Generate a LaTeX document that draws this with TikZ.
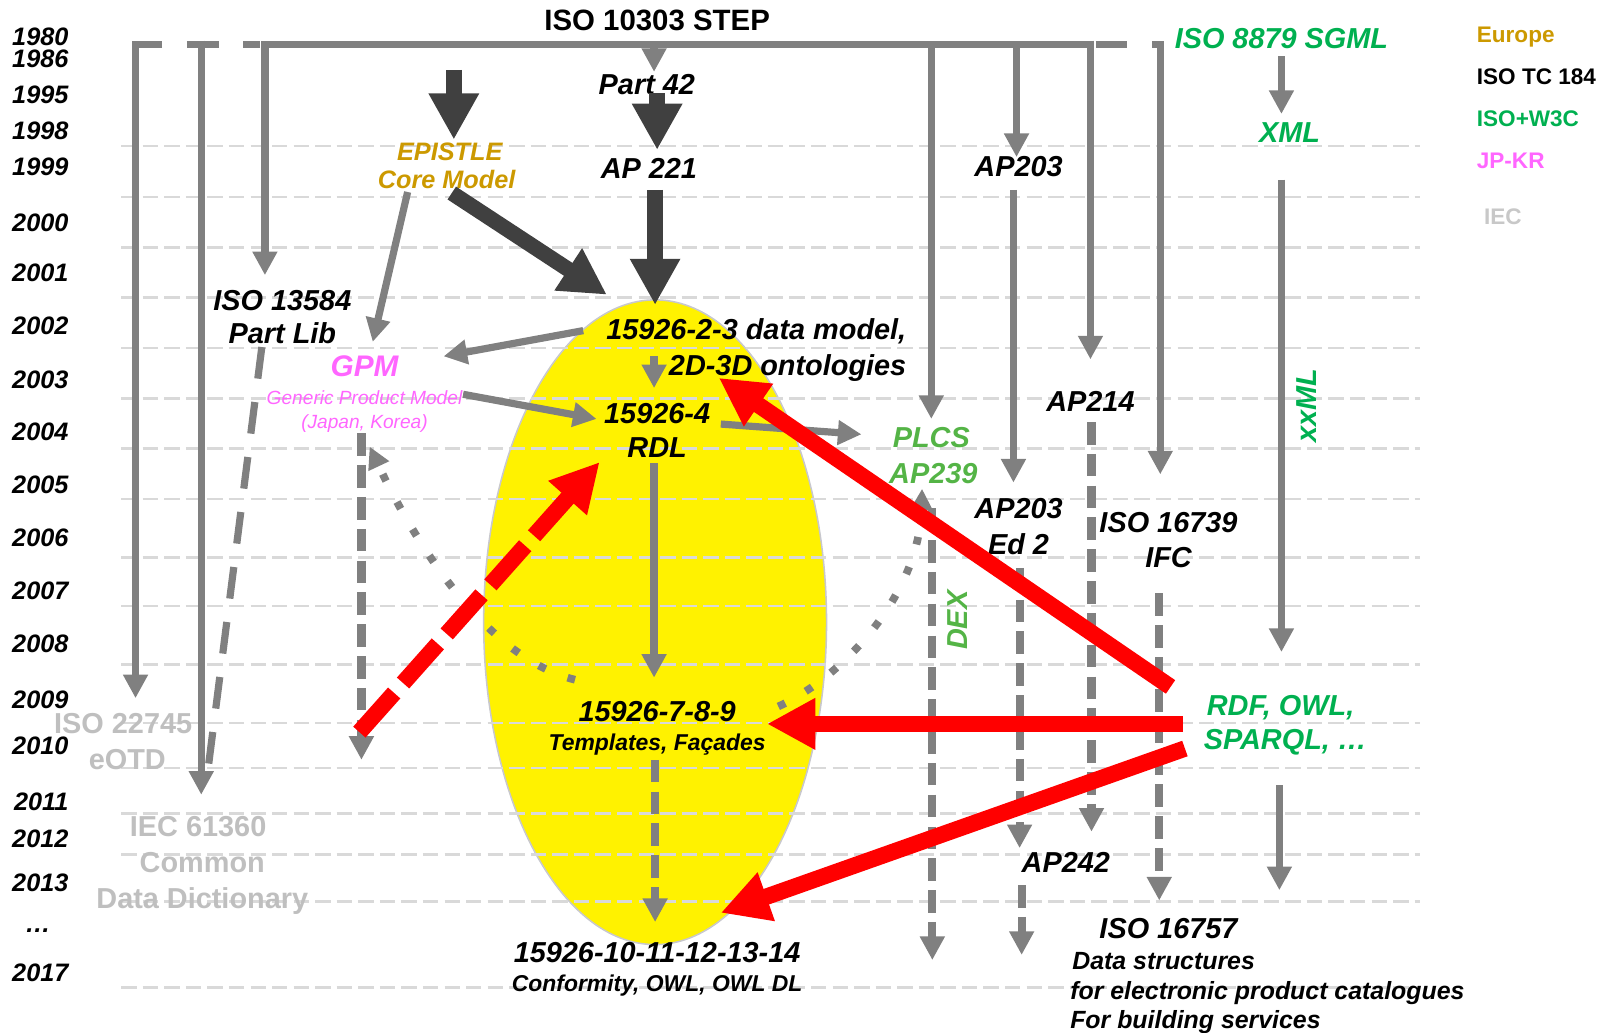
\documentclass[tikz,border=0pt]{standalone}
\usepackage{fontspec}
\setmainfont{Liberation Sans}
\usetikzlibrary{arrows.meta, positioning}

\definecolor{linegray}{RGB}{128,128,128}
\definecolor{heavygray}{RGB}{64,64,64}
\definecolor{gridgray}{RGB}{217,217,217}
\definecolor{ellgray}{RGB}{200,200,205}
\definecolor{eugold}{RGB}{204,153,0}
\definecolor{w3cgreen}{RGB}{0,176,80}
\definecolor{plcsgreen}{RGB}{84,180,70}
\definecolor{jpkr}{RGB}{255,102,255}
\definecolor{iecgray}{RGB}{191,191,191}
\definecolor{legiec}{RGB}{200,200,200}

\begin{document}
\begin{tikzpicture}[
        x=0.02cm, y=-0.02cm,
        lbl/.style={font=\fontsize{16}{19}\selectfont\bfseries\itshape, inner sep=0pt, anchor=base},
        sublbl/.style={font=\fontsize{12.7}{15}\selectfont\bfseries\itshape, inner sep=0pt, anchor=base},
        desclbl/.style={font=\fontsize{13.8}{16}\selectfont\bfseries\itshape, inner sep=0pt, anchor=base west},
        year/.style={font=\fontsize{14}{16}\selectfont\bfseries\itshape, inner sep=0pt, anchor=base east},
        legend/.style={font=\fontsize{12.5}{15}\selectfont\bfseries, inner sep=0pt, anchor=base west},
        ieclbl/.style={font=\fontsize{16}{19}\selectfont\bfseries, text=iecgray, inner sep=0pt, anchor=base},
        gridline/.style={gridgray, line width=0.05cm, dash pattern=on 0.3cm off 0.12cm},
        bar/.style={linegray, line width=0.14cm},
        grayarr/.style={bar, -{Triangle[length=0.46cm, width=0.46cm]}},
        dasharr/.style={linegray, line width=0.16cm, dash pattern=on 0.44cm off 0.18cm, -{Triangle[length=0.46cm, width=0.46cm]}},
        dotarr/.style={linegray, line width=0.15cm, dash pattern=on 0.15cm off 0.46cm, -{Triangle[length=0.42cm, width=0.42cm]}},
        heavyarr/.style={heavygray, line width=0.3cm, -{Triangle[length=0.9cm, width=0.92cm]}},
        redarr/.style={red, line width=0.32cm, -{Triangle[length=0.94cm, width=0.94cm]}}
    ]
    \useasboundingbox (0,0) rectangle (1568,1006);

    % ISO 15926 ellipse
    \draw[fill=yellow, draw=ellgray, line width=0.03cm] (638,606) ellipse [x radius=3.34cm, y radius=6.28cm];

    % Year grid
    \foreach \gy in {142,192,241,290,339,388,437,486,543,590,647,704,748,792,832,878,962}
        \draw[gridline] (118,\gy) -- (1383,\gy);

    % Years
    \foreach \yy/\yr in {35/1980, 57/1986, 92/1995, 127/1998, 162/1999, 216/2000, 265/2001,
                         317/2002, 369/2003, 420/2004, 472/2005, 523/2006, 575/2007, 626/2008,
                         681/2009, 726/2010, 780/2011, 816/2012, 859/2013, 947/2017}
        \node[year] (y\yr) at (67,\yy+9) {\yr};
    \node[year, anchor=base] (ydots) at (37,908) {…};

    % Legend
    \node[legend, text=eugold] (legEU) at (1438,41) {Europe};
    \node[legend] (legTC) at (1438,82) {ISO TC 184};
    \node[legend, text=w3cgreen] (legW3C) at (1438,123) {ISO+W3C};
    \node[legend, text=jpkr] (legJK) at (1438,164) {JP-KR};
    \node[legend, text=legiec] (legIEC) at (1445,219) {IEC};

    % ISO TC 184 labels
    \node[lbl, font=\fontsize{16.3}{19}\selectfont\bfseries] (step) at (640,30) {ISO 10303 STEP};
    \node[lbl] (part42) at (630,92) {Part 42};
    \node[lbl] (ap221) at (632,174) {AP 221};
    \node[lbl] (plibA) at (275,302) {ISO 13584};
    \node[lbl] (plibB) at (275,335) {Part Lib};
    \node[lbl, anchor=base east] (dmA) at (883,331) {15926-2-3 data model,};
    \node[lbl, anchor=base east] (dmB) at (883,366) {2D-3D ontologies};
    \node[lbl] (rdlA) at (640,412) {15926-4};
    \node[lbl] (rdlB) at (640,446) {RDL};
    \node[lbl] (tmplA) at (640,703) {15926-7-8-9};
    \node[sublbl] (tmplB) at (640,731) {Templates, Façades};
    \node[lbl] (confA) at (640,937) {15926-10-11-12-13-14};
    \node[sublbl] (confB) at (640,966) {Conformity, OWL, OWL DL};
    \node[lbl] (ap203) at (992,172) {AP203};
    \node[lbl] (ap214) at (1062,401) {AP214};
    \node[lbl] (edA) at (992,505) {AP203};
    \node[lbl] (edB) at (992,540) {Ed 2};
    \node[lbl] (ifcA) at (1138,519) {ISO 16739};
    \node[lbl] (ifcB) at (1138,553) {IFC};
    \node[lbl] (ap242) at (1038,850) {AP242};
    \node[lbl] (bsA) at (1138,914) {ISO 16757};
    \node[desclbl] (bsB) at (1044,944) {Data structures};
    \node[desclbl] (bsC) at (1042,973) {for electronic product catalogues};
    \node[desclbl] (bsD) at (1042,1002) {For building services};

    % Europe, JP-KR, W3C and IEC labels
    \node[lbl, font=\fontsize{14}{16}\selectfont\bfseries\itshape, text=eugold] (epiA) at (438,156) {EPISTLE};
    \node[lbl, font=\fontsize{14}{16}\selectfont\bfseries\itshape, text=eugold] (epiB) at (435,184) {Core Model};
    \node[lbl, font=\fontsize{16.5}{19}\selectfont\bfseries\itshape, text=jpkr] (gpmA) at (355,367) {GPM};
    \node[font=\fontsize{10.6}{12}\selectfont\itshape, text=jpkr, inner sep=0pt, anchor=base] (gpmB) at (355,394) {Generic Product Model};
    \node[font=\fontsize{10.6}{12}\selectfont\itshape, text=jpkr, inner sep=0pt, anchor=base] (gpmC) at (355,417) {(Japan, Korea)};
    \node[lbl, text=plcsgreen] (plcsA) at (907,436) {PLCS};
    \node[lbl, text=plcsgreen] (plcsB) at (909,471) {AP239};
    \node[lbl, anchor=center, rotate=90, text=plcsgreen] (dex) at (933,604) {DEX};
    \node[lbl, text=w3cgreen] (sgml) at (1248,47) {ISO 8879 SGML};
    \node[lbl, text=w3cgreen] (xml) at (1256,139) {XML};
    \node[lbl, anchor=center, rotate=90, text=w3cgreen] (xxml) at (1272,395) {xxML};
    \node[lbl, anchor=base west, text=w3cgreen] (rdfA) at (1175,697) {RDF, OWL,};
    \node[lbl, anchor=base west, text=w3cgreen] (rdfB) at (1172,730) {SPARQL, …};
    \node[ieclbl] (otdA) at (120,714) {ISO 22745};
    \node[ieclbl] (otdB) at (124,749) {eOTD};
    \node[ieclbl] (cddA) at (193,815) {IEC 61360};
    \node[ieclbl] (cddB) at (197,850) {Common};
    \node[ieclbl] (cddC) at (197,885) {Data Dictionary};

    % Connector end points
    \coordinate (otdIn) at (132,680);   \coordinate (cddIn) at (196,774);
    \coordinate (plibIn) at (258,268);  \coordinate (plibOut) at (255,338);
    \coordinate (cddEnd) at (203,746);  \coordinate (p42In) at (637,70);
    \coordinate (plcsIn) at (907,408);  \coordinate (ap203In) at (990,153);
    \coordinate (ap214In) at (1062,350); \coordinate (ifcIn) at (1130,462);
    \coordinate (epiOut) at (397,187);  \coordinate (gpmIn) at (363,333);
    \coordinate (dmOut) at (568,322);   \coordinate (gpmIn2) at (432,347);
    \coordinate (gpmOut) at (451,384);  \coordinate (rdlIn) at (581,408);
    \coordinate (dmDown) at (637,347);  \coordinate (rdlTop) at (637,378);
    \coordinate (rdlOut) at (702,413);  \coordinate (plcsIn2) at (839,423);
    \coordinate (rdlDown) at (637,451); \coordinate (tmplIn) at (637,660);
    \coordinate (ap203Out) at (987,185); \coordinate (edIn) at (987,470);
    \coordinate (sgmlOut) at (1248,55); \coordinate (xmlIn) at (1248,111);
    \coordinate (xmlOut) at (1248,175); \coordinate (xxmlEnd) at (1248,635);
    \coordinate (rdfDown) at (1246,765); \coordinate (rdfEnd) at (1246,867);

    % STEP bar and its branches
    \draw[grayarr] (158,43) -| (otdIn);
    \draw[bar] (182,43) -- (213,43);
    \draw[grayarr] (196,39.5) -- (cddIn);
    \draw[bar] (237,43) -- (253,43);
    \draw[grayarr] (1065.5,43) -| (plibIn);
    \draw[grayarr] (637,43) -- (p42In);
    \draw[grayarr] (907,43) -- (plcsIn);
    \draw[grayarr] (990,43) -- (ap203In);
    \draw[grayarr] (1062,39.5) -- (ap214In);
    \draw[bar] (1067,43) -- (1098,43);
    \draw[grayarr] (1122,43) -| (ifcIn);

    % Gray links
    \draw[linegray, line width=0.14cm, dash pattern=on 0.62cm off 0.46cm] (plibOut) -- (cddEnd);
    \draw[grayarr] (epiOut) -- (gpmIn);
    \draw[grayarr] (dmOut) -- (gpmIn2);
    \draw[grayarr] (gpmOut) -- (rdlIn);
    \draw[grayarr] (dmDown) -- (rdlTop);
    \draw[grayarr] (rdlOut) -- (plcsIn2);
    \draw[grayarr] (rdlDown) -- (tmplIn);
    \draw[grayarr] (ap203Out) -- (edIn);
    \draw[grayarr] (sgmlOut) -- (xmlIn);
    \draw[grayarr] (xmlOut) -- (xxmlEnd);
    \draw[grayarr] (rdfDown) -- (rdfEnd);

    % Dashed continuations
    \draw[dasharr] (352,422) -- (352,740);
    \draw[dasharr] (638,740) -- (638,898);
    \draw[dasharr] (908,495) -- (908,935);
    \draw[dasharr] (993,553) -- (993,826);
    \draw[dasharr] (995,862) -- (995,930);
    \draw[dasharr] (1063,411) -- (1063,810);
    \draw[dasharr] (1129,578) -- (1129,877);

    % Dotted feedback
    \draw[dotarr] (560,662) .. controls (470,640) and (400,520) .. (360,435);
    \draw[dotarr] (758,688) .. controls (820,660) and (895,580) .. (898,476);

    % Heavy arrows
    \draw[heavyarr] (442,68) -- (442,136);
    \draw[heavyarr] (640,91) -- (640,146);
    \draw[heavyarr] (638,185) -- (638,297);
    \draw[heavyarr] (440,188) -- (591,287);

    % Semantic web arrows
    \draw[redarr, dash pattern=on 1.02cm off 0.26cm] (350,713) -- (584,450);
    \draw[redarr] (1140,669) -- (700,368);
    \draw[redarr] (1152,705) -- (747,705);
    \draw[redarr] (1154,729) -- (702,889);

\end{tikzpicture}
\end{document}
